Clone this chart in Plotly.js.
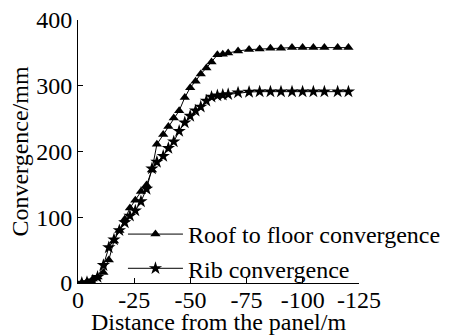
<!DOCTYPE html>
<html>
<head>
<meta charset="utf-8">
<script src="https://cdn.plot.ly/plotly-3.0.1.min.js"></script>
<style>html,body{margin:0;padding:0;background:#fff;}#chart{width:458px;height:335px;}</style>
</head>
<body>
<div id="chart"></div>
<script>
// Distance from the panel (m), negative = behind the panel
var distance = [-1.7,-4.0,-6.6,-8.7,-11.3,-13.7,-16.0,-18.4,-20.8,-23.1,-25.5,-28.0,-30.5,-32.9,-35.1,-37.9,-40.2,-42.6,-45.0,-47.5,-49.9,-52.3,-54.6,-57.1,-59.4,-62.0,-64.4,-66.8,-71.2,-76.1,-80.8,-85.6,-90.3,-95.2,-99.9,-104.7,-109.6,-115.5,-120.3];
// Roof to floor convergence (mm)
var roofFloor = [0,2,6,9,16,35,64,80,97,114,126,139,149,172,211,226,238,251,262,282,297,307,318,327,336,347,348,350,353,355,356,357,357,358,358,358,358,358,358];
// Rib convergence (mm)
var rib = [0,1,3.5,9,27,54,66,80,92,102,110,124,143,174,184,193,205,215,231,244,254,262,268,277,283,285,286,287,289.5,290.5,291,291,291,291,291,291,291,291,291];
var seriesNames = ["Roof to floor convergence","Rib convergence"];
var xTickVals = [0,-25,-50,-75,-100,-125];
var xTickText = ["0","-25","-50","-75","-100","-125"];
var yTickVals = [0,100,200,300,400];

function mkFont(){ return {family:"Liberation Serif, Times New Roman, serif", size:24, color:"#000"}; }
var traces = [
  {x:distance, y:roofFloor, name:seriesNames[0], type:"scatter", mode:"lines+markers",
   line:{color:"#000", width:1}, marker:{symbol:"triangle-up", size:9, color:"#000"}},
  {x:distance, y:rib, name:seriesNames[1], type:"scatter", mode:"lines+markers",
   line:{color:"#000", width:1}, marker:{symbol:"star", size:10, color:"#000"}}
];
var layout = {
  width:458, height:335,
  margin:{l:78, r:27, t:20, b:52},
  paper_bgcolor:"#fff", plot_bgcolor:"#fff",
  font:mkFont(),
  showlegend:true,
  legend:{x:0.16, y:0.27, xanchor:"left", yanchor:"top", bgcolor:"rgba(0,0,0,0)",
          font:mkFont(), itemwidth:55, tracegroupgap:0},
  xaxis:{range:[0,-125], tickmode:"array", tickvals:xTickVals, ticktext:xTickText,
         showline:true, linecolor:"#000", linewidth:1, mirror:false,
         ticks:"inside", ticklen:5, tickcolor:"#000", showgrid:false, zeroline:false,
         ticklabelstandoff:-5,
         tickfont:mkFont(), title:{text:"Distance from the panel/m", font:mkFont(), standoff:0}},
  yaxis:{range:[0,400], tickmode:"array", tickvals:yTickVals,
         showline:true, linecolor:"#000", linewidth:1, mirror:false,
         ticks:"inside", ticklen:5, tickcolor:"#000", showgrid:false, zeroline:false,
         tickfont:mkFont(), title:{text:"Convergence/mm", font:mkFont(), standoff:0}}
};
Plotly.newPlot("chart", traces, layout, {displayModeBar:false, staticPlot:true});
</script>
</body>
</html>
